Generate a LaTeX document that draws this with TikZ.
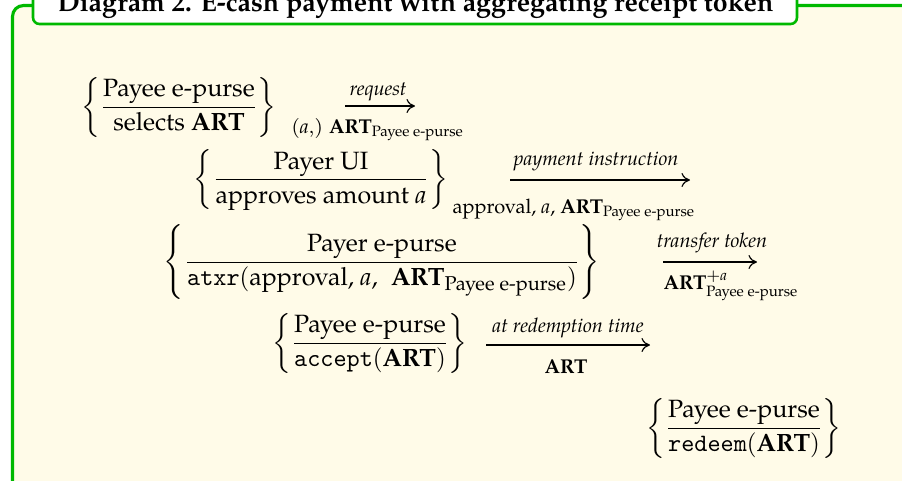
\documentclass[tikz,border=0pt]{standalone}
\usepackage{fontspec}
\usepackage{amsmath}
\usetikzlibrary{arrows.meta}

\IfFontExistsTF{TeX Gyre Pagella}{\setmainfont{TeX Gyre Pagella}}{}
\setmonofont{Latin Modern Mono}
\DeclareMathSizes{10}{10}{8}{6}

\definecolor{framegreen}{RGB}{0,185,0}
\definecolor{paper}{RGB}{255,251,232}

\newcommand{\ART}{\text{\bfseries ART}}
\newcommand{\purse}{\text{Payee e-purse}}
\newcommand{\va}{\text{\itshape a}}

\tikzset{
  stage/.style={inner sep=0pt, outer sep=0pt},
  flow/.style={line width=0.45pt, -{To[length=3.4pt,width=5.6pt]}},
  toplabel/.style={inner sep=0pt, anchor=base, font=\fontsize{8}{9.5}\selectfont\itshape},
  botlabel/.style={inner sep=0pt, anchor=base},
}

\begin{document}
\begin{tikzpicture}[x=0.4pt, y=-0.4pt]
  \useasboundingbox (0,0) rectangle (902,481);
  \clip (0,0) rectangle (902,481);

  % outer frame and title tab
  \draw[framegreen, line width=1.25pt, fill=paper, rounded corners=4.4pt]
    (12.5,5.5) rectangle (1000,520);
  \draw[framegreen, line width=1.05pt, fill=white, rounded corners=2.6pt]
    (33,-30) rectangle (797,24);
  \node[anchor=base, inner sep=0pt, font=\fontsize{10.7}{13}\selectfont\bfseries] (title) at (415.5,11)
    {Diagram 2. E-cash payment with aggregating receipt token};

  % stages
  \node[stage] (s1) at (179,107)
    {$\left\{\dfrac{\text{Payee e-purse}}{\text{selects }\ART}\right\}$};
  \node[stage] (s2) at (321,180)
    {$\left\{\dfrac{\text{Payer UI}}{\text{approves amount }\va}\right\}$};
  \node[stage] (s3) at (382,262)
    {$\left\{\dfrac{\text{Payer e-purse}}{\text{\ttfamily atxr}(\text{approval, \itshape a}\text{, }\;\ART_{\purse})}\right\}$};
  \node[stage] (s4) at (370,343)
    {$\left\{\dfrac{\text{Payee e-purse}}{\text{\ttfamily accept}(\ART)}\right\}$};
  \node[stage] (s5) at (744,428)
    {$\left\{\dfrac{\text{Payee e-purse}}{\text{\ttfamily redeem}(\ART)}\right\}$};

  % arrows between stages
  \coordinate (a1s) at (345,106);  \coordinate (a1e) at (415,106);
  \coordinate (a2s) at (510,180);  \coordinate (a2e) at (690,180);
  \coordinate (a3s) at (663,262);  \coordinate (a3e) at (757,262);
  \coordinate (a4s) at (486,345);  \coordinate (a4e) at (650,345);
  \draw[flow] (a1s) -- (a1e);
  \draw[flow] (a2s) -- (a2e);
  \draw[flow] (a3s) -- (a3e);
  \draw[flow] (a4s) -- (a4e);

  % arrow labels
  \node[toplabel] (t1) at (378,95) {request};
  \node[botlabel, anchor=base west] (b1) at (291,133)
    {$\scriptstyle (\va,)\ \ART_{\purse}$};
  \node[toplabel] (t2) at (596,165) {payment instruction};
  \node[botlabel, anchor=base west] (b2) at (452,213)
    {$\scriptstyle \text{approval, \itshape a}\text{, }\ART_{\purse}$};
  \node[toplabel] (t3) at (712,247) {transfer token};
  \node[botlabel, anchor=base west] (b3) at (663,289)
    {$\scriptstyle \ART^{+\va}_{\purse}$};
  \node[toplabel] (t4) at (568,332) {at redemption time};
  \node[botlabel] (b4) at (566,373) {$\scriptstyle \ART$};
\end{tikzpicture}
\end{document}
